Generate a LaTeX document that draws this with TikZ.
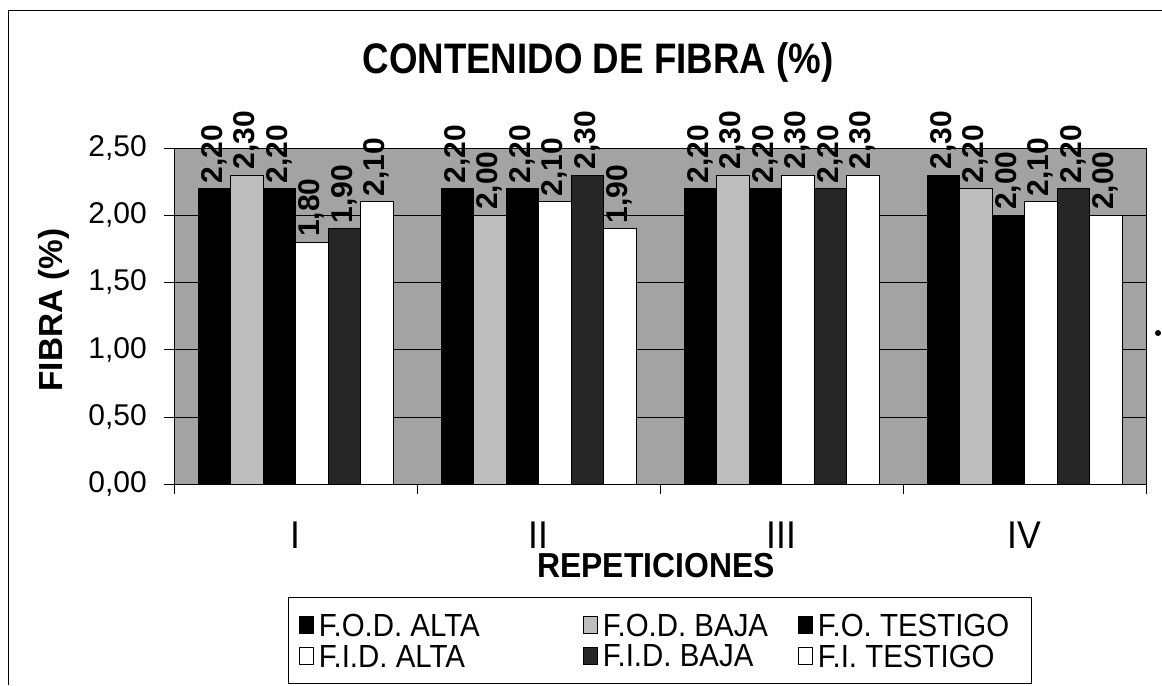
\documentclass[tikz,border=0pt]{standalone}
\usepackage{fontspec}
\setmainfont{Liberation Sans}
\newfontfamily\narrowsf{Liberation Sans}[FakeStretch=0.92]
\newfontfamily\titlesf{Liberation Sans}[FakeStretch=0.86]
\usetikzlibrary{positioning}

\definecolor{fondo}{gray}{0.64}
\pgfkeys{/pgf/number format/.cd,fixed,fixed zerofill,precision=2,use comma,assume math mode=true}

\tikzset{
  serie0/.style={fill=black,draw=black},
  serie1/.style={fill=black!26,draw=black},
  serie2/.style={fill=black,draw=black},
  serie3/.style={fill=white,draw=black},
  serie4/.style={fill=black!85,draw=black},
  serie5/.style={fill=white,draw=black},
  valor/.style={rotate=90,anchor=west,inner sep=0pt,font=\bfseries\fontsize{22.5}{22.5}\selectfont},
  ejey/.style={anchor=east,inner sep=0pt,font=\fontsize{22.5}{22.5}\selectfont},
  ejex/.style={anchor=base,inner sep=0pt,font=\narrowsf\fontsize{29}{29}\selectfont},
  leyenda/.style={anchor=west,inner sep=0pt,font=\narrowsf\fontsize{24}{24}\selectfont},
  cuadro/.style={minimum width=10.5pt,minimum height=12.5pt,inner sep=0pt}
}

\begin{document}
\begin{tikzpicture}[x=0.75pt,y=0.75pt,yscale=-1,xscale=1]
\useasboundingbox (0,0) rectangle (1162,685);

%marco
\draw (8,685) -- (8,10) -- (1162,10);

%titulo
\node[anchor=base,inner sep=0pt,font=\titlesf\bfseries\fontsize{32}{32}\selectfont] (titulo) at (598,74) {CONTENIDO DE FIBRA (\%)};

%area del grafico
\draw[fill=fondo] (174,148) rectangle (1146,484);
\foreach \g in {0.5,1,1.5,2}
  \draw (174,{484-134.4*\g}) -- (1146,{484-134.4*\g});

%eje y
\foreach \g [count=\k from 0] in {0,0.5,...,2.5}{
  \draw (164,{484-134.4*\g}) -- (174,{484-134.4*\g});
  \node[ejey] (y\k) at (147,{484-134.4*\g}) {\pgfmathprintnumber{\g}};
}
\node[rotate=90,font=\bfseries\fontsize{25}{25}\selectfont] (ejetit) at (54,310) {FIBRA (\%)};

%eje x
\foreach \k in {0,...,4}
  \draw ({174+243*\k},484) -- ({174+243*\k},494);
\foreach \r [count=\c from 0] in {I,II,III,IV}
  \node[ejex] (r\c) at ({295.5+243*\c},548) {\r};
\node[anchor=base,inner sep=0pt,font=\narrowsf\bfseries\fontsize{26}{26}\selectfont] (rep) at (656,577) {REPETICIONES};

%barras
\foreach \vals [count=\c from 0] in {{2.2,2.3,2.2,1.8,1.9,2.1},{2.2,2.0,2.2,2.1,2.3,1.9},{2.2,2.3,2.2,2.3,2.2,2.3},{2.3,2.2,2.0,2.1,2.2,2.0}}{
  \foreach \v [count=\s from 0] in \vals {
    \pgfmathsetmacro\xa{198+243*\c+32.5*\s}
    \draw[serie\s] (\xa,484) rectangle ({\xa+32.5},{484-134.4*\v});
    \node[valor] (v\c\s) at ({\xa+16.25},{484-134.4*\v-5}) {\pgfmathprintnumber{\v}};
  }
}

\fill (1158,333) circle[radius=2.25pt];

%leyenda
\draw (288,597) rectangle (1031,683);
\foreach \nom/\xc/\yc [count=\s from 0] in {F.O.D. ALTA/306/625,F.O.D. BAJA/590/625,F.O. TESTIGO/805/625,F.I.D. ALTA/306/656,F.I.D. BAJA/590/656,F.I. TESTIGO/805/656}{
  \node[cuadro,serie\s] (c\s) at (\xc,\yc) {};
  \node[leyenda,right=4pt of c\s] (l\s) {\nom};
}

\end{tikzpicture}
\end{document}
